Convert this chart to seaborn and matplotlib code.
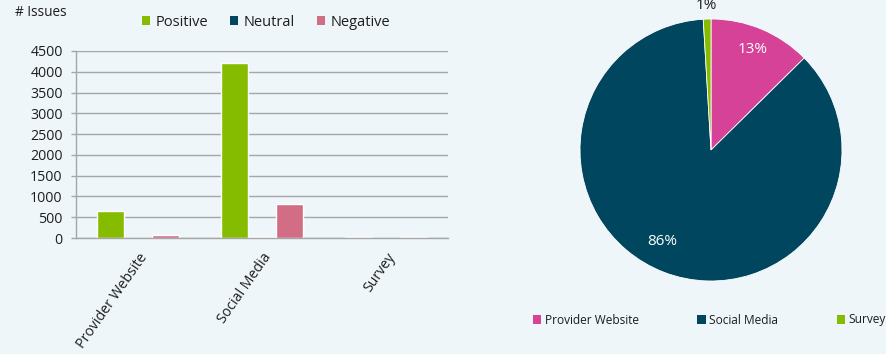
import matplotlib
matplotlib.use("Agg")
import matplotlib.pyplot as plt
from matplotlib.patches import Patch
import numpy as np
import pandas as pd
import seaborn as sns

# Issue counts by source and sentiment
sources = ["Provider Website", "Social Media", "Survey"]
sentiments = ["Positive", "Neutral", "Negative"]
positive = [650, 4200, 20]
neutral = [5, 20, 10]
negative = [80, 820, 25]
y_ticks = [0, 500, 1000, 1500, 2000, 2500, 3000, 3500, 4000, 4500]

bg = "#EEF6F9"
txt = "#1E1E1E"
grid = "#A6A6A6"
bar_colors = {"Positive": "#86BC00", "Neutral": "#00465F", "Negative": "#D16D85"}
pie_colors = ["#D54297", "#00465F", "#86BC00"]

sns.set_theme(style="white")
plt.rcParams["font.family"] = ["Open Sans", "DejaVu Sans"]
plt.rcParams["axes.facecolor"] = bg
plt.rcParams["figure.facecolor"] = bg

df = pd.DataFrame({
    "Source": sources * 3,
    "Sentiment": np.repeat(sentiments, len(sources)),
    "Issues": positive + neutral + negative,
})

fig = plt.figure(figsize=(8.86, 3.54), dpi=100)

# ---- grouped bar chart ----
ax = fig.add_axes([76 / 886, 1 - 238 / 354, 372 / 886, 187 / 354])
sns.barplot(data=df, x="Source", y="Issues", hue="Sentiment", order=sources,
            hue_order=sentiments, palette=bar_colors, width=0.665,
            saturation=1, ax=ax, legend=False)
ax.set_ylim(0, 4500)
ax.set_xlim(-0.5, 2.5)
ax.set_yticks(y_ticks)
ax.set_yticklabels([str(t) for t in y_ticks], fontsize=10.2, color=txt)
ax.yaxis.grid(True, color=grid, linewidth=1.0)
ax.set_axisbelow(True)
ax.set_xlabel("")
ax.set_ylabel("")
for s in ["top", "right"]:
    ax.spines[s].set_visible(False)
for s in ["left", "bottom"]:
    ax.spines[s].set_color(grid)
    ax.spines[s].set_linewidth(1.0)
ax.set_xticks(range(len(sources)))
ax.set_xticklabels(sources, rotation=55, ha="right", rotation_mode="anchor",
                   fontsize=10.2, color=txt)
ax.tick_params(axis="x", which="major", length=0, pad=9)
ax.set_xticks([-0.5, 0.5, 1.5, 2.5], minor=True)
ax.tick_params(axis="x", which="minor", length=3.6, color=grid, width=1.0)
ax.tick_params(axis="y", length=3.6, color=grid, width=1.0, pad=6, left=True)

fig.text(15 / 886, 1 - 13 / 354, "# Issues", fontsize=9.8, va="center",
         ha="left", color=txt)

handles = [Patch(facecolor=bar_colors[s], edgecolor="none", label=s) for s in sentiments]
fig.legend(handles=handles, loc="center", bbox_to_anchor=(266 / 886, 1 - 22 / 354),
           ncol=3, frameon=False, fontsize=10.5, handlelength=0.55, handleheight=0.55,
           handletextpad=0.4, columnspacing=1.5, labelcolor=txt)

# ---- pie of totals per source ----
totals = [p + n + g for p, n, g in zip(positive, neutral, negative)]
pax = fig.add_axes([(711 - 131) / 886, (354 - 150 - 131) / 354, 262 / 886, 262 / 354])
wedges, texts, autotexts = pax.pie(
    totals, colors=pie_colors, startangle=90, counterclock=False,
    autopct=lambda p: f"{p:.0f}%", pctdistance=0.83,
    wedgeprops=dict(linewidth=0.6, edgecolor="white"),
    textprops=dict(fontsize=11, color="white"))
pax.set_xlim(-1, 1)
pax.set_ylim(-1, 1)
pax.set_aspect("equal")
for t in autotexts:
    t.set_clip_on(False)
# label placement: large slice label lower-left, small slice label outside the rim
autotexts[1].set_position((-0.37, -0.70))
x, y = autotexts[2].get_position()
r = np.hypot(x, y)
autotexts[2].set_position((x / r * 1.1, y / r * 1.1))
autotexts[2].set_color(txt)

pie_handles = [Patch(facecolor=c, edgecolor="none", label=s) for c, s in zip(pie_colors, sources)]
fig.legend(handles=pie_handles, loc="center left", bbox_to_anchor=(522 / 886, 1 - 320 / 354),
           ncol=3, frameon=False, fontsize=8.6, handlelength=0.7, handleheight=0.7,
           handletextpad=0.3, columnspacing=4.9, labelcolor=txt)

fig.savefig("out.png", dpi=100, facecolor=bg)
